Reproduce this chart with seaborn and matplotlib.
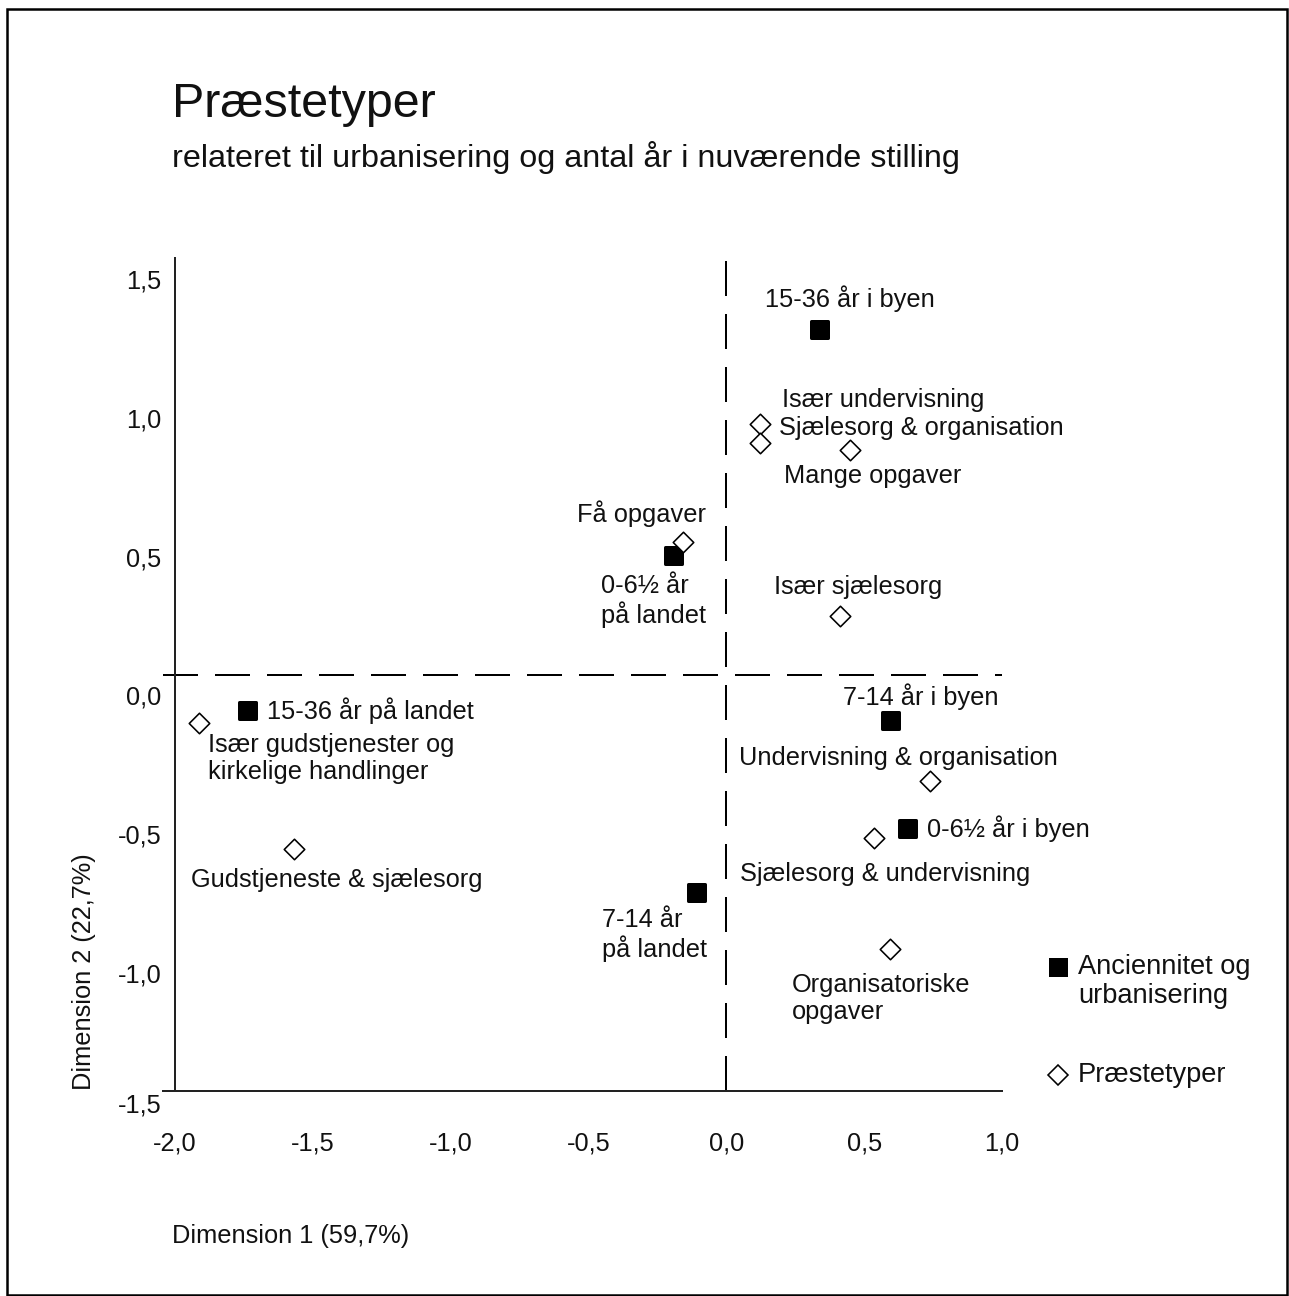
import matplotlib
matplotlib.use("Agg")
import matplotlib.pyplot as plt
from matplotlib.transforms import ScaledTranslation
from matplotlib.lines import Line2D
from matplotlib.patches import Rectangle
import seaborn as sns
import pandas as pd

sns.set_style("white")
plt.rcParams['font.family'] = ['Liberation Sans', 'DejaVu Sans']
plt.rcParams['lines.scale_dashes'] = False

# ---------------- data ----------------
anc_labels = ["15-36 år i byen", "0-6½ år\npå landet", "15-36 år på landet",
              "7-14 år i byen", "0-6½ år i byen", "7-14 år\npå landet"]
anc_dim1 = [0.336, -0.194, -1.739, 0.593, 0.655, -0.111]
anc_dim2 = [1.244, 0.430, -0.128, -0.164, -0.553, -0.783]

typ_labels = ["Især undervisning", "Sjælesorg & organisation", "Mange opgaver",
              "Få opgaver", "Især sjælesorg",
              "Især gudstjenester og\nkirkelige handlinger",
              "Undervisning & organisation", "Sjælesorg & undervisning",
              "Gudstjeneste & sjælesorg", "Organisatoriske\nopgaver"]
typ_dim1 = [0.122, 0.122, 0.448, -0.158, 0.412, -1.912, 0.738, 0.535, -1.569, 0.593]
typ_dim2 = [0.902, 0.834, 0.808, 0.477, 0.211, -0.175, -0.383, -0.589, -0.628, -0.989]

x_ticks = [-2.0, -1.5, -1.0, -0.5, 0.0, 0.5, 1.0]
y_ticks = [-1.5, -1.0, -0.5, 0.0, 0.5, 1.0, 1.5]

legend_labels = ["Anciennitet og\nurbanisering", "Præstetyper"]
title = "Præstetyper"
subtitle = "relateret til urbanisering og antal år i nuværende stilling"
xlabel = "Dimension 1 (59,7%)"
ylabel = "Dimension 2 (22,7%)"

# label offsets (pixels) relative to point: (dx to left edge, dy to text centre)
anc_offsets = [(-54, 30), (-72, -46), (20, -1), (-47, 23), (20, -1), (-94, -43)]
typ_offsets = [(22, 24), (19, 15), (-66, -26), (-106, 28), (-66, 29), (9, -35),
               (-191, 23), (-134, -36), (-103, -31), (-98, -49)]

anc_df = pd.DataFrame({"dim1": anc_dim1, "dim2": anc_dim2, "label": anc_labels})
typ_df = pd.DataFrame({"dim1": typ_dim1, "dim2": typ_dim2, "label": typ_labels})

# ---------------- figure ----------------
W, H, DPI = 1289, 1296, 72
fig = plt.figure(figsize=(W / DPI, H / DPI), dpi=DPI)
fig.patch.set_facecolor("white")

def fx(px):
    return px / W

def fy(py):
    return 1 - py / H

ax = fig.add_axes([fx(163), fy(1091), (1002 - 163) / W, (1091 - 258) / H])
ax.set_xlim(-2.044, 1.0)
ax.set_ylim(-1.5, 1.5)

# dashed reference lines
ax.axhline(0, color="black", lw=2, dashes=(35, 17), zorder=1)
ax.axvline(0, color="black", lw=2, dashes=(35, 18), zorder=1)

sns.scatterplot(data=anc_df, x="dim1", y="dim2", marker="s", s=17 ** 2,
                color="black", edgecolor="black", linewidth=3,
                joinstyle="round", ax=ax, zorder=3, legend=False)
sns.scatterplot(data=typ_df, x="dim1", y="dim2", marker="D", s=14.5 ** 2,
                color="white", edgecolor="black", linewidth=1.6,
                ax=ax, zorder=3, legend=False)

fs_lab = 25.4
for (x, y, t), (dx, dy) in zip(zip(anc_dim1, anc_dim2, anc_labels), anc_offsets):
    ax.annotate(t, (x, y), xytext=(dx, dy), textcoords="offset pixels",
                ha="left", va="center", fontsize=fs_lab, linespacing=1.15,
                color="#111111")
for (x, y, t), (dx, dy) in zip(zip(typ_dim1, typ_dim2, typ_labels), typ_offsets):
    ax.annotate(t, (x, y), xytext=(dx, dy), textcoords="offset pixels",
                ha="left", va="center", fontsize=fs_lab, linespacing=1.15,
                color="#111111")

# spines & ticks
for s in ["top", "right"]:
    ax.spines[s].set_visible(False)
ax.spines["left"].set_position(("data", -2.0))
ax.spines["left"].set_bounds(-1.5, 1.5)
for s in ["left", "bottom"]:
    ax.spines[s].set_color("#222222")
    ax.spines[s].set_linewidth(2)

fmt = lambda v: f"{v:.1f}".replace(".", ",")
ax.set_xticks(x_ticks)
ax.set_xticklabels([fmt(v) for v in x_ticks])
ax.set_yticks(y_ticks)
ax.set_yticklabels([fmt(v) for v in y_ticks])
ax.tick_params(axis="x", direction="out", length=5, width=1.5, pad=36,
               labelsize=25.4, colors="#222222", labelcolor="#111111")
ax.tick_params(axis="y", direction="out", length=8, width=1.5, pad=6,
               labelsize=25.4, colors="#222222", labelcolor="#111111")
for v, lab in zip(y_ticks, ax.get_yticklabels()):
    off = 12 if v == -1.5 else 21
    lab.set_transform(lab.get_transform() +
                      ScaledTranslation(0, -off / DPI, fig.dpi_scale_trans))
ax.set_xlabel("")
ax.set_ylabel("")

# titles and axis labels
fig.text(fx(172), fy(117), title, fontsize=48.5, ha="left", va="baseline", color="#111111")
fig.text(fx(172), fy(167), subtitle, fontsize=32.4, ha="left", va="baseline", color="#111111")
fig.text(fx(172), fy(1243), xlabel, fontsize=25.4, ha="left", va="baseline", color="#111111")
fig.text(fx(84), fy(1090), ylabel, fontsize=25.4, ha="center", va="bottom",
         rotation=90, color="#111111")

# legend (manual)
fig.add_artist(Line2D([fx(1058)], [fy(967)], transform=fig.transFigure,
                      marker="s", markersize=16, markerfacecolor="black",
                      markeredgecolor="black", markeredgewidth=3,
                      solid_joinstyle="round", linestyle="none"))
fig.add_artist(Line2D([fx(1058)], [fy(1075)], transform=fig.transFigure,
                      marker="D", markersize=14, markerfacecolor="white",
                      markeredgecolor="black", markeredgewidth=1.6,
                      linestyle="none"))
fig.text(fx(1078), fy(954), legend_labels[0], fontsize=27.3, ha="left", va="top",
         linespacing=1.15, color="#111111")
fig.text(fx(1078), fy(1075), legend_labels[1], fontsize=27.3, ha="left", va="center",
         color="#111111")

# outer frame
fig.add_artist(Rectangle((fx(7), fy(1295)), fx(1287) - fx(7), fy(9) - fy(1295),
                         transform=fig.transFigure, fill=False,
                         edgecolor="black", linewidth=2.5))

fig.savefig("out.png", dpi=DPI)
